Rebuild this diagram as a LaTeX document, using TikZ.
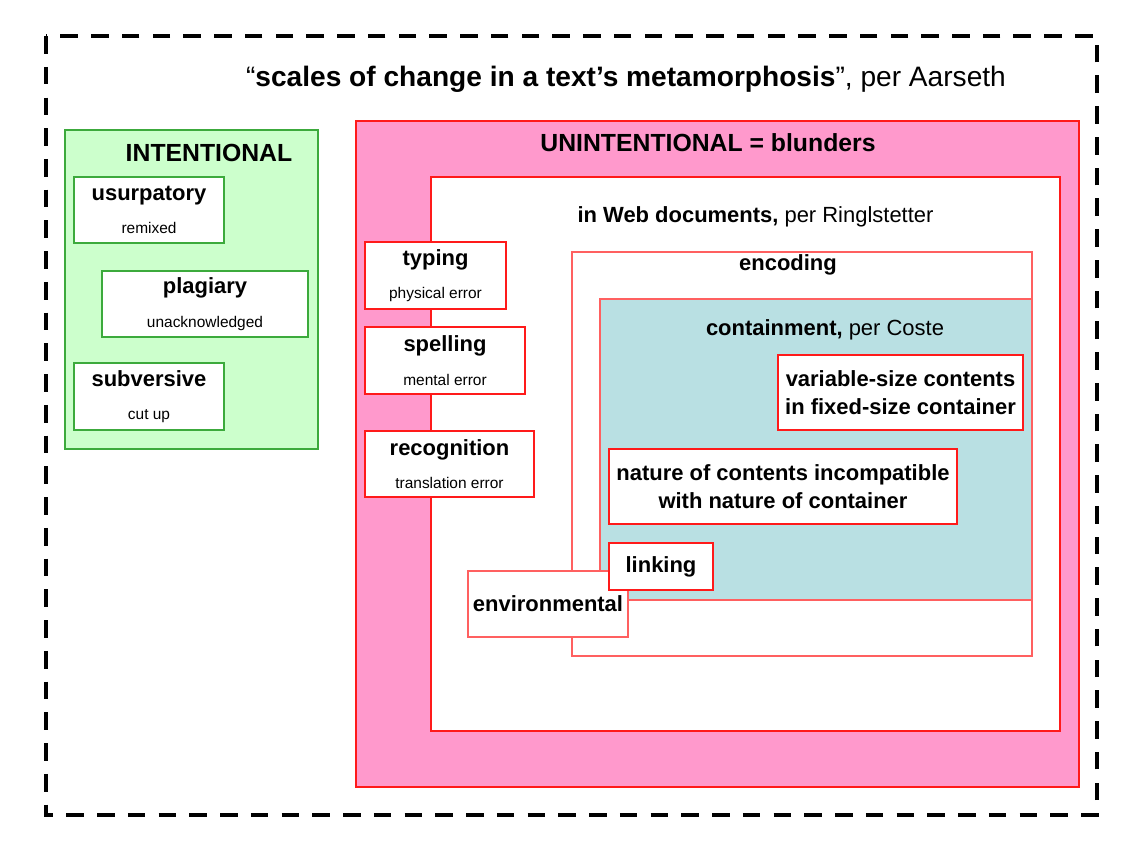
\documentclass[tikz,border=0pt]{standalone}
\usepackage{fontspec}
\setmainfont{Liberation Sans}
\usepackage{tikz}

\definecolor{intfill}{HTML}{CCFFCC}
\definecolor{intline}{HTML}{3CAA3C}
\definecolor{unfill}{HTML}{FF99CC}
\definecolor{boxred}{HTML}{FF1A1A}
\definecolor{lightred}{HTML}{FF6060}
\definecolor{contfill}{HTML}{B9E0E3}
\newcommand{\subtxt}[1]{{\mdseries\fontsize{8.8}{11}\selectfont #1}}

\begin{document}
\begin{tikzpicture}[x=0.02cm,y=-0.02cm,
    cont/.style={draw=boxred,line width=0.8pt,inner sep=0pt},
    box/.style={draw=boxred,fill=white,line width=0.8pt,inner sep=0pt,align=center,
        font=\fontsize{12.5}{16}\selectfont\bfseries},
    ibox/.style={box,draw=intline},
    head/.style={anchor=base,font=\fontsize{12.5}{15}\selectfont\bfseries},
    bighead/.style={head,font=\fontsize{14.1}{17}\selectfont\bfseries}]
\useasboundingbox (0,0) rectangle (1128,850);
\draw[line width=2.3pt,dash pattern=on 10pt off 7.5pt] (46,36) rectangle (1097,815);
\node[bighead,font=\fontsize{16}{19}\selectfont\bfseries] (title) at (626,86)
    {{\mdseries “}scales of change in a text’s metamorphosis{\mdseries ”, per Aarseth}};

% intentional side
\node[cont,draw=intline,fill=intfill,minimum width=5.06cm,minimum height=6.38cm] (intent) at (191.5,289.5) {};
\node[bighead] (intlab) at (209,161) {INTENTIONAL};
\node[ibox,minimum width=3cm,minimum height=1.32cm] (usurp) at (149,210) {usurpatory\\[3pt]\subtxt{remixed}};
\node[ibox,minimum width=4.12cm,minimum height=1.32cm] (plag) at (205,304) {plagiary\\[3pt]\subtxt{unacknowledged}};
\node[ibox,minimum width=3cm,minimum height=1.34cm] (subv) at (149,396.5) {subversive\\[3pt]\subtxt{cut up}};

% unintentional side
\node[cont,fill=unfill,minimum width=14.46cm,minimum height=13.32cm] (unint) at (717.5,454) {};
\node[bighead] (unintlab) at (708,151) {UNINTENTIONAL = blunders};
\node[cont,fill=white,minimum width=12.58cm,minimum height=11.08cm] (web) at (745.5,454) {};
\node[head] (weblab) at (755.5,222) {in Web documents,{\mdseries\ per Ringlstetter}};
\node[cont,draw=lightred,fill=white,minimum width=9.2cm,minimum height=8.08cm] (enc) at (802,454) {};
\node[head] (enclab) at (788,270) {encoding};
\node[cont,draw=lightred,fill=contfill,minimum width=8.64cm,minimum height=6.02cm] (contain) at (816,449.5) {};
\node[head] (contlab) at (825,335) {containment,{\mdseries\ per Coste}};

\node[box,minimum width=2.82cm,minimum height=1.34cm] (typing) at (435.5,275.5) {typing\\[3pt]\subtxt{physical error}};
\node[box,minimum width=3.2cm,minimum height=1.34cm] (spell) at (445,360.5) {spelling\\[3pt]\subtxt{mental error}};
\node[box,minimum width=3.38cm,minimum height=1.32cm] (recog) at (449.5,464) {recognition\\[3pt]\subtxt{translation error}};
\node[box,minimum width=4.9cm,minimum height=1.5cm] (varsize) at (900.5,392.5) {variable-size contents\\in fixed-size container};
\node[box,minimum width=6.96cm,minimum height=1.5cm] (nature) at (783,486.5) {nature of contents incompatible\\with nature of container};
\node[box,draw=lightred,minimum width=3.2cm,minimum height=1.32cm] (env) at (548,604) {environmental};
\node[box,minimum width=2.08cm,minimum height=0.94cm] (link) at (661,566.5) {linking};
\end{tikzpicture}
\end{document}
